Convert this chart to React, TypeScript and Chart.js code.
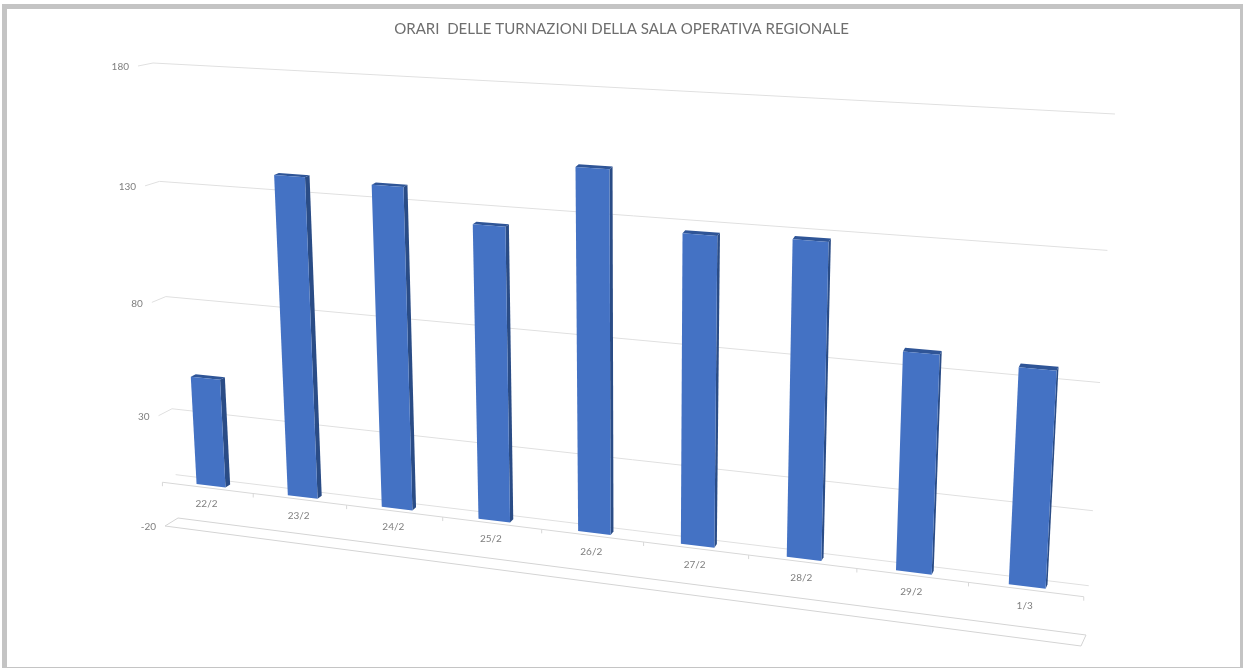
import React, { useEffect, useRef } from "react";
import { Chart, registerables } from "chart.js";

Chart.register(...registerables);

const TITLE = "ORARI  DELLE TURNAZIONI DELLA SALA OPERATIVA REGIONALE";
const categories = ["22/2", "23/2", "24/2", "25/2", "26/2", "27/2", "28/2", "29/2", "1/3"];
const hours = [48, 138, 137, 124, 150, 127, 128, 88, 86];
const valueTicks = [-20, 30, 80, 130, 180];

type Pt = [number, number];

// Perspective frame of the 3D plot: [top-left, top-right, bottom-right, bottom-left]
const BACK_WALL: Pt[] = [[153, 63], [1115, 114], [1086, 635], [178, 518]];
const FRONT_PLANE: Pt[] = [[138, 66], [1110, 124], [1081, 646], [165, 526]];

function makeHomography(q: Pt[]) {
  const [[x0, y0], [x1, y1], [x2, y2], [x3, y3]] = q;
  const dx1 = x1 - x2, dx2 = x3 - x2, sx = x0 - x1 + x2 - x3;
  const dy1 = y1 - y2, dy2 = y3 - y2, sy = y0 - y1 + y2 - y3;
  const den = dx1 * dy2 - dx2 * dy1;
  const g = (sx * dy2 - dx2 * sy) / den;
  const h = (dx1 * sy - sx * dy1) / den;
  const a = x1 - x0 + g * x1, b = x3 - x0 + h * x3;
  const d = y1 - y0 + g * y1, e = y3 - y0 + h * y3;
  return (u: number, v: number): Pt => {
    const w = g * u + h * v + 1;
    return [(a * u + b * v + x0) / w, (d * u + e * v + y0) / w];
  };
}
const backH = makeHomography(BACK_WALL);
const frontH = makeHomography(FRONT_PLANE);

function project(chart: any, px: number, py: number, depth: number): Pt {
  const { left, right, top, bottom } = chart.chartArea;
  const u = (px - left) / (right - left);
  const v = (py - top) / (bottom - top);
  const b = backH(u, v);
  const f = frontH(u, v);
  return [b[0] + (f[0] - b[0]) * depth, b[1] + (f[1] - b[1]) * depth];
}

function poly(ctx: CanvasRenderingContext2D, pts: Pt[], fill: string) {
  ctx.beginPath();
  pts.forEach((p, i) => (i ? ctx.lineTo(p[0], p[1]) : ctx.moveTo(p[0], p[1])));
  ctx.closePath();
  ctx.fillStyle = fill;
  ctx.fill();
}

function segs(ctx: CanvasRenderingContext2D, pts: Pt[], color: string, closed = false) {
  ctx.beginPath();
  pts.forEach((p, i) => (i ? ctx.lineTo(p[0], p[1]) : ctx.moveTo(p[0], p[1])));
  if (closed) ctx.closePath();
  ctx.strokeStyle = color;
  ctx.lineWidth = 1;
  ctx.stroke();
}

const BAR_FRONT = 0.72;
const BAR_BACK = 0.34;

const perspective = {
  id: "perspective",
  beforeDatasetsDraw(chart: any) {
    const ctx: CanvasRenderingContext2D = chart.ctx;
    const { left, right } = chart.chartArea;
    const yS = chart.scales.y;
    const xS = chart.scales.x;
    ctx.save();
    // value gridlines: side wall + back wall
    yS.ticks.forEach((t: any) => {
      const py = yS.getPixelForValue(t.value);
      if (t.value === yS.min) {
        segs(ctx, [
          project(chart, left, py, 0), project(chart, right, py, 0),
          project(chart, right, py, 1), project(chart, left, py, 1),
        ], "#d4d4d4", true);
      } else {
        segs(ctx, [project(chart, left, py, 1), project(chart, left, py, 0), project(chart, right, py, 0)], "#e0e0e0");
      }
      const a = project(chart, left, py, 1);
      ctx.font = "10px Lato";
      ctx.fillStyle = "#7f7f7f";
      ctx.textAlign = "right";
      ctx.textBaseline = "middle";
      ctx.fillText(String(t.label), a[0] - 9, a[1] + 1);
    });
    // category axis at value 0
    const p0 = yS.getPixelForValue(0);
    segs(ctx, [project(chart, left, p0, 0), project(chart, right, p0, 0)], "#e0e0e0");
    segs(ctx, [project(chart, left, p0, 1), project(chart, right, p0, 1)], "#d8d8d8");
    const band = (right - left) / categories.length;
    for (let i = 0; i <= categories.length; i++) {
      const a = project(chart, left + band * i, p0, 1);
      segs(ctx, [a, [a[0], a[1] + 4]], "#d8d8d8");
    }
    xS.ticks.forEach((t: any, i: number) => {
      const a = project(chart, xS.getPixelForTick(i), p0, 1);
      ctx.font = "10px Lato";
      ctx.fillStyle = "#7f7f7f";
      ctx.textAlign = "center";
      ctx.textBaseline = "middle";
      ctx.fillText(String(t.label), a[0] - 1, a[1] + 16);
    });
    ctx.restore();
  },
  // the bar elements are laid out by Chart.js; only their projection is drawn here
  beforeDatasetDraw(chart: any, args: any) {
    const ctx: CanvasRenderingContext2D = chart.ctx;
    const opts = args.meta.controller.getDataset();
    ctx.save();
    args.meta.data.forEach((el: any) => {
      const l = el.x - el.width / 2, r = el.x + el.width / 2;
      const P = (x: number, y: number, d: number) => project(chart, x, y, d);
      poly(ctx, [P(r, el.y, BAR_FRONT), P(r, el.y, BAR_BACK), P(r, el.base, BAR_BACK), P(r, el.base, BAR_FRONT)], opts.sideColor);
      poly(ctx, [P(l, el.y, BAR_FRONT), P(l, el.y, BAR_BACK), P(r, el.y, BAR_BACK), P(r, el.y, BAR_FRONT)], opts.topColor);
      poly(ctx, [P(l, el.y, BAR_FRONT), P(r, el.y, BAR_FRONT), P(r, el.base, BAR_FRONT), P(l, el.base, BAR_FRONT)], opts.backgroundColor);
    });
    ctx.restore();
    return false;
  },
};

export default function App() {
  const ref = useRef<HTMLCanvasElement>(null);
  useEffect(() => {
    const chart = new Chart(ref.current!, {
      type: "bar",
      data: {
        labels: categories,
        datasets: [{
          data: hours,
          backgroundColor: "#4472c4",
          sideColor: "#2a4c86",
          topColor: "#2f5597",
          categoryPercentage: 1,
          barPercentage: 0.32,
        } as any],
      },
      options: {
        responsive: false,
        animation: false,
        events: [],
        layout: { padding: 0 },
        plugins: {
          legend: { display: false },
          tooltip: { enabled: false },
          title: {
            display: true,
            text: TITLE,
            color: "#6e6e6e",
            font: { family: "Lato", size: 15.05, weight: "normal" },
            padding: { top: 20, bottom: 0 },
          },
        },
        scales: {
          x: { display: false, ticks: { autoSkip: false } },
          y: {
            display: false,
            min: -20,
            max: 180,
            afterBuildTicks: (axis: any) => {
              axis.ticks = valueTicks.map((value) => ({ value }));
            },
          },
        },
      },
      plugins: [perspective],
    });
    return () => chart.destroy();
  }, []);
  return (
    <div style={{ position: "fixed", left: 0, top: 0, width: 1243, height: 668, background: "#fff" }}>
      <canvas ref={ref} width={1243} height={668} style={{ display: "block", filter: "blur(0.6px)" }} />
      <div style={{
        position: "absolute", left: 2, top: 4, right: 0, bottom: 0, boxSizing: "border-box", pointerEvents: "none",
        borderStyle: "solid", borderColor: "#c4c4c4", borderWidth: "5px 3px 1px 5px",
      }} />
    </div>
  );
}
